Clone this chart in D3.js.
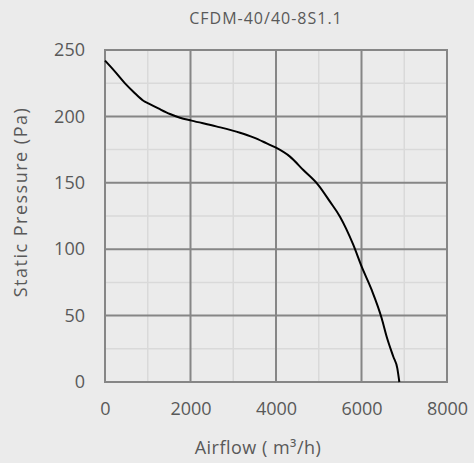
<!DOCTYPE html>
<html><head><meta charset="utf-8">
<script src="https://cdn.jsdelivr.net/npm/d3@7/dist/d3.min.js"></script>
<style>html,body{margin:0;padding:0;background:#ebebeb;}svg{display:block;}</style>
</head><body>
<script>
const title = "CFDM-40/40-8S1.1";
const xLabel = "Airflow ( m³/h)";
const yLabel = "Static Pressure (Pa)";
const xTicks = [0, 2000, 4000, 6000, 8000];
const yTicks = [0, 50, 100, 150, 200, 250];
const xMinor = [1000, 3000, 5000, 7000];
const yMinor = [25, 75, 125, 175, 225];
const airflow = [0, 234, 468, 663, 897, 1014, 1248, 1520, 1754, 2027, 2600, 3158, 3470, 3782, 4000, 4327, 4639, 4990, 5263, 5497, 5637, 5809, 6004, 6238, 6472, 6589, 6745, 6838, 6885];
const pressure = [242, 233.7, 224.9, 218.6, 211.8, 209.8, 206, 201.8, 199, 196.8, 192.5, 187.7, 184.2, 179.7, 176.4, 169.7, 159.6, 148.3, 135.8, 124.5, 115.7, 103.2, 86.8, 69.3, 48, 34.1, 19, 10.3, 0];

const W = 474, H = 463;
const svg = d3.select("body").append("svg").attr("width", W).attr("height", H);
svg.append("rect").attr("width", W).attr("height", H).attr("fill", "#ebebeb");
const L = 105, R = 447, T = 50, B = 382;
const x = d3.scaleLinear().domain([0, 8000]).range([L, R]);
const y = d3.scaleLinear().domain([0, 250]).range([B, T]);
const font = "'Open Sans', sans-serif";
const txt = "#595959";

const g = svg.append("g");
g.selectAll(".xm").data(xMinor).enter().append("line")
  .attr("x1", d => x(d)).attr("x2", d => x(d)).attr("y1", T).attr("y2", B)
  .attr("stroke", "#d9d9d9").attr("stroke-width", 1.5);
g.selectAll(".ym").data(yMinor).enter().append("line")
  .attr("y1", d => y(d)).attr("y2", d => y(d)).attr("x1", L).attr("x2", R)
  .attr("stroke", "#d9d9d9").attr("stroke-width", 1.5);
g.selectAll(".xM").data(xTicks).enter().append("line")
  .attr("x1", d => x(d)).attr("x2", d => x(d)).attr("y1", T).attr("y2", B)
  .attr("stroke", "#868686").attr("stroke-width", 2);
g.selectAll(".yM").data(yTicks).enter().append("line")
  .attr("y1", d => y(d)).attr("y2", d => y(d)).attr("x1", L - 1).attr("x2", R + 1)
  .attr("stroke", "#868686").attr("stroke-width", 2);

const xAxis = svg.append("g").attr("transform", `translate(0,${B})`)
  .call(d3.axisBottom(x).tickValues(xTicks).tickSize(0).tickPadding(20).tickFormat(d3.format("d")));
const yAxis = svg.append("g").attr("transform", `translate(${L},0)`)
  .call(d3.axisLeft(y).tickValues(yTicks).tickSize(0).tickPadding(20).tickFormat(d3.format("d")));
[xAxis, yAxis].forEach(a => {
  a.select(".domain").remove();
  a.selectAll("text").attr("fill", txt).style("font-family", font).style("font-size", "18px");
});

const line = d3.line().x((d, i) => x(airflow[i])).y(d => y(d)).curve(d3.curveMonotoneX);
svg.append("path").attr("d", line(pressure)).attr("fill", "none")
  .attr("stroke", "#000").attr("stroke-width", 2);

svg.append("text").attr("x", 266).attr("y", 24).attr("text-anchor", "middle")
  .attr("fill", txt).style("font-family", font).style("font-size", "16px")
  .style("letter-spacing", "1px").text(title);
svg.append("text").attr("x", 258).attr("y", 454).attr("text-anchor", "middle")
  .attr("fill", txt).style("font-family", font).style("font-size", "18px")
  .style("letter-spacing", "0.5px").text(xLabel);
svg.append("text").attr("transform", "translate(27,202) rotate(-90)").attr("text-anchor", "middle")
  .attr("fill", txt).style("font-family", font).style("font-size", "18px")
  .style("letter-spacing", "1.5px").text(yLabel);
</script>
</body></html>
